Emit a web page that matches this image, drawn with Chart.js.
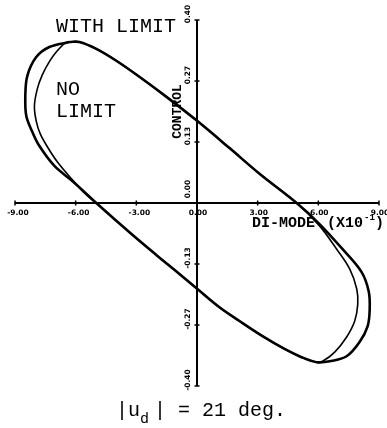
<!DOCTYPE html>
<html>
<head>
<meta charset="utf-8">
<script src="https://cdn.jsdelivr.net/npm/chart.js@4/dist/chart.umd.min.js"></script>
<style>
  html, body { margin: 0; padding: 0; background: #fff; }
  canvas { display: block; }
</style>
</head>
<body>
<canvas id="phase" width="387" height="428"></canvas>
<script>
// Limit cycle traced clockwise from the top of the loop (DI-MODE x 10^-1 vs CONTROL)
const withLimitX = [-6.31, -5.82, -4.98, -3.99, -2.85, -1.51, 0.02, 1.61, 3.09, 4.93,
  6.06, 7.20, 8.14, 8.49, 8.54, 8.44, 8.04, 7.40, 6.56, 5.92,
  5.17, 4.33, 3.24, 2.10, 1.11, 0.02, -0.87, -2.00, -3.34, -4.98,
  -6.11, -7.05, -7.80, -8.14, -8.44, -8.49, -8.39, -7.95, -7.30, -6.31];
const withLimitY = [0.352, 0.352, 0.337, 0.311, 0.276, 0.232, 0.179, 0.120, 0.064, 0.000,
  -0.046, -0.101, -0.151, -0.193, -0.232, -0.269, -0.304, -0.335, -0.346, -0.348,
  -0.337, -0.319, -0.291, -0.258, -0.228, -0.188, -0.155, -0.114, -0.064, 0.000,
  0.046, 0.081, 0.125, 0.155, 0.190, 0.234, 0.278, 0.319, 0.341, 0.352];

const noLimitX = [-6.31, -5.82, -4.98, -3.99, -2.85, -1.51, 0.02, 1.61, 3.09, 4.93,
  6.06, 6.91, 7.55, 7.90, 7.95, 7.80, 7.40, 6.81, 6.21, 5.92,
  5.17, 4.33, 3.24, 2.10, 1.11, 0.02, -0.87, -2.00, -3.34, -4.98,
  -5.57, -6.21, -6.91, -7.40, -7.75, -7.95, -8.04, -7.90, -7.65, -7.30, -6.96, -6.51, -6.31];
const noLimitY = [0.352, 0.352, 0.337, 0.311, 0.276, 0.232, 0.179, 0.120, 0.064, 0.000,
  -0.050, -0.101, -0.144, -0.188, -0.221, -0.258, -0.293, -0.326, -0.346, -0.348,
  -0.337, -0.319, -0.291, -0.258, -0.228, -0.188, -0.155, -0.114, -0.064, 0.000,
  0.022, 0.053, 0.090, 0.123, 0.151, 0.179, 0.212, 0.249, 0.280, 0.309, 0.330, 0.350, 0.352];

const xTickValues = [-9, -6, -3, 0, 3, 6, 9];
const xTickLabels = ['-9.00', '-6.00', '-3.00', '0.00', '3.00', '6.00', '9.00'];
const yTickValues = [0.40, 0.2667, 0.1333, 0, -0.1333, -0.2667, -0.40];
const yTickLabels = ['0.40', '0.27', '0.13', '0.00', '-0.13', '-0.27', '-0.40'];

const xLimits = [-9, 9];
const yLimits = [-0.40, 0.40];

const toPoints = (xs, ys) => xs.map((v, i) => ({ x: v, y: ys[i] }));

// Axes crossing at the origin, with rotated vertical labels
const crossAxes = {
  id: 'crossAxes',
  beforeDatasetsDraw(chart) {
    const { ctx, scales: { x, y } } = chart;
    const x0 = x.getPixelForValue(0);
    const y0 = y.getPixelForValue(0);
    ctx.save();
    ctx.strokeStyle = '#000';
    ctx.lineWidth = 2;
    ctx.beginPath();
    ctx.moveTo(x.getPixelForValue(xLimits[0]), y0);
    ctx.lineTo(x.getPixelForValue(xLimits[1]), y0);
    ctx.moveTo(x0, y.getPixelForValue(yLimits[1]));
    ctx.lineTo(x0, y.getPixelForValue(yLimits[0]));
    ctx.stroke();

    ctx.lineWidth = 1.5;
    ctx.beginPath();
    xTickValues.forEach(v => {
      const px = x.getPixelForValue(v);
      ctx.moveTo(px, y0 - 2.5);
      ctx.lineTo(px, y0 + 2.5);
    });
    yTickValues.forEach(v => {
      const py = y.getPixelForValue(v);
      ctx.moveTo(x0 - 2.5, py);
      ctx.lineTo(x0 + 2.5, py);
    });
    ctx.stroke();

    // tick labels
    ctx.fillStyle = '#000';
    ctx.font = 'bold 7.5px "DejaVu Sans"';
    ctx.textBaseline = 'alphabetic';
    ctx.textAlign = 'center';
    xTickValues.forEach((v, i) => {
      const px = x.getPixelForValue(v) + (v < 0 ? 3 : 1);
      ctx.fillText(xTickLabels[i], px, y0 + 12);
    });
    yTickValues.forEach((v, i) => {
      const py = y.getPixelForValue(v) - (v === 0 ? 14 : 6);
      ctx.save();
      ctx.translate(x0 - 7, py);
      ctx.rotate(-Math.PI / 2);
      ctx.textBaseline = 'alphabetic';
      ctx.fillText(yTickLabels[i], 0, 0);
      ctx.restore();
    });

    // axis titles
    ctx.font = 'bold 15px "Liberation Mono"';
    ctx.textAlign = 'left';
    ctx.fillText('DI-MODE', 252, y0 + 24);
    ctx.fillText('(X10', 327, y0 + 24);
    ctx.font = 'bold 9px "Liberation Mono"';
    ctx.fillText('-1', 364, y0 + 17);
    ctx.font = 'bold 15px "Liberation Mono"';
    ctx.fillText(')', 375, y0 + 24);

    ctx.save();
    ctx.translate(x0 - 16, y.getPixelForValue(0.20));
    ctx.rotate(-Math.PI / 2);
    ctx.font = 'bold 13px "Liberation Mono"';
    ctx.textAlign = 'center';
    ctx.fillText('CONTROL', 0, 0);
    ctx.restore();
    ctx.restore();
  },
  afterDraw(chart) {
    const { ctx } = chart;
    ctx.save();
    ctx.fillStyle = '#000';
    ctx.textAlign = 'left';
    ctx.textBaseline = 'alphabetic';
    ctx.font = '20px "Liberation Mono"';
    ctx.fillText('WITH LIMIT', 56, 32);
    ctx.fillText('NO', 56, 95);
    ctx.fillText('LIMIT', 56, 117);

    // |u_d| = 21 deg.
    ctx.fillText('|u', 116, 416);
    ctx.font = '15px "Liberation Mono"';
    ctx.fillText('d', 140, 423);
    ctx.font = '20px "Liberation Mono"';
    ctx.fillText('| = 21 deg.', 154, 416);
    ctx.restore();
  }
};

new Chart(document.getElementById('phase'), {
  type: 'scatter',
  data: {
    datasets: [
      {
        label: 'WITH LIMIT',
        data: toPoints(withLimitX, withLimitY),
        showLine: true,
        borderColor: '#000',
        borderWidth: 2.6,
        pointRadius: 0,
        tension: 0.35,
        fill: false
      },
      {
        label: 'NO LIMIT',
        data: toPoints(noLimitX, noLimitY),
        showLine: true,
        borderColor: '#000',
        borderWidth: 1.6,
        pointRadius: 0,
        tension: 0.35,
        fill: false
      }
    ]
  },
  options: {
    responsive: false,
    animation: false,
    devicePixelRatio: 1,
    clip: false,
    layout: { padding: { left: 15, right: 8, top: 20, bottom: 42 } },
    plugins: { legend: { display: false }, tooltip: { enabled: false }, title: { display: false } },
    scales: {
      x: { type: 'linear', min: xLimits[0], max: xLimits[1], display: false },
      y: { type: 'linear', min: yLimits[0], max: yLimits[1], display: false }
    }
  },
  plugins: [crossAxes]
});
</script>
</body>
</html>
